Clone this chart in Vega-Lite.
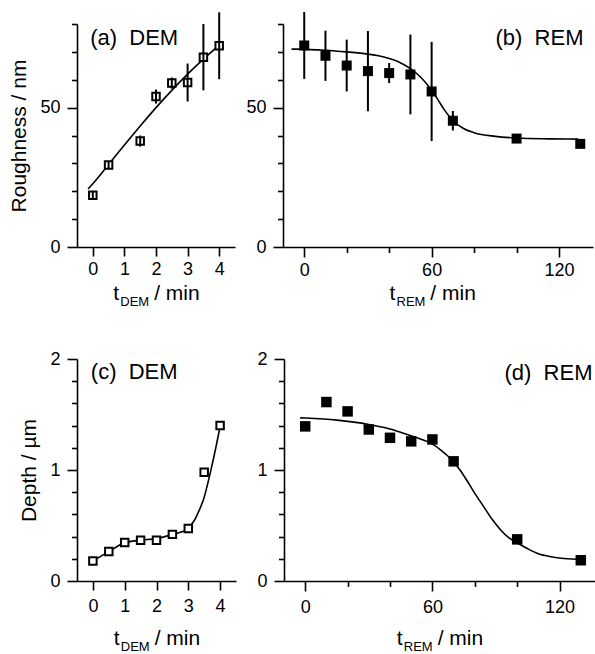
{
  "$schema": "https://vega.github.io/schema/vega-lite/v6.json",
  "padding": {"left": 8, "top": 11, "right": 0, "bottom": 0},
  "config": {
    "font": "Liberation Sans",
    "view": {"stroke": null},
    "axis": {
      "grid": false,
      "domainColor": "black",
      "domainWidth": 1.6,
      "tickColor": "black",
      "tickWidth": 1.6,
      "labelColor": "black",
      "labelFont": "Liberation Sans",
      "labelFontSize": 18,
      "titleColor": "black",
      "titleFont": "Liberation Sans",
      "titleFontSize": 21,
      "titleFontWeight": "normal",
      "labelOverlap": false,
      "labelFlush": false
    }
  },
  "datasets": {
    "aPts": [
      {"t": 0, "r": 18.6, "e": 1.2},
      {"t": 0.5, "r": 29.4, "e": 1.2},
      {"t": 1.5, "r": 38.0, "e": 2.0},
      {"t": 2, "r": 54.0, "e": 2.5},
      {"t": 2.5, "r": 58.8, "e": 2.0},
      {"t": 3, "r": 59.0, "e": 6.8},
      {"t": 3.5, "r": 68.1, "e": 11.9},
      {"t": 4, "r": 72.2, "e": 12.0}
    ],
    "aFit": [
      {"t": -0.15, "r": 20.8},
      {"t": 0, "r": 22.7},
      {"t": 0.5, "r": 29.6},
      {"t": 1, "r": 36.6},
      {"t": 1.5, "r": 43.4},
      {"t": 2, "r": 50.0},
      {"t": 2.5, "r": 56.2},
      {"t": 3, "r": 62.0},
      {"t": 3.5, "r": 67.4},
      {"t": 4, "r": 72.3}
    ],
    "bPts": [
      {"t": 0, "r": 72.3, "e": 12.0},
      {"t": 10, "r": 68.6, "e": 9.0},
      {"t": 20, "r": 65.1, "e": 9.3},
      {"t": 30, "r": 63.1, "e": 14.4},
      {"t": 40, "r": 62.4, "e": 3.6},
      {"t": 50, "r": 61.9, "e": 14.3},
      {"t": 60, "r": 55.8, "e": 17.8},
      {"t": 70, "r": 45.3, "e": 3.5},
      {"t": 100, "r": 38.9, "e": 1.0},
      {"t": 130, "r": 37.0, "e": 0.5}
    ],
    "bFit": [
      {"t": -6, "r": 71.0},
      {"t": 0, "r": 70.9},
      {"t": 10, "r": 70.6},
      {"t": 20, "r": 70.0},
      {"t": 30, "r": 69.2},
      {"t": 35, "r": 68.6},
      {"t": 40, "r": 67.6},
      {"t": 45, "r": 66.2},
      {"t": 50, "r": 64.0},
      {"t": 55, "r": 60.8},
      {"t": 60, "r": 56.2},
      {"t": 63, "r": 52.8},
      {"t": 66, "r": 49.2},
      {"t": 70, "r": 45.4},
      {"t": 75, "r": 42.5},
      {"t": 80, "r": 41.0},
      {"t": 90, "r": 39.7},
      {"t": 100, "r": 39.1},
      {"t": 115, "r": 38.8},
      {"t": 129, "r": 38.7}
    ],
    "cPts": [
      {"t": 0, "d": 0.18},
      {"t": 0.5, "d": 0.265},
      {"t": 1, "d": 0.347},
      {"t": 1.5, "d": 0.368},
      {"t": 2, "d": 0.368},
      {"t": 2.5, "d": 0.42},
      {"t": 3, "d": 0.472},
      {"t": 3.5, "d": 0.98},
      {"t": 4, "d": 1.40}
    ],
    "cFit": [
      {"t": 0, "d": 0.18},
      {"t": 0.5, "d": 0.265},
      {"t": 1, "d": 0.345},
      {"t": 1.5, "d": 0.368},
      {"t": 2, "d": 0.382},
      {"t": 2.5, "d": 0.42},
      {"t": 3, "d": 0.47},
      {"t": 3.1, "d": 0.51},
      {"t": 3.2, "d": 0.55},
      {"t": 3.3, "d": 0.61},
      {"t": 3.4, "d": 0.675},
      {"t": 3.5, "d": 0.755},
      {"t": 3.6, "d": 0.865},
      {"t": 3.7, "d": 0.985},
      {"t": 3.8, "d": 1.113},
      {"t": 3.9, "d": 1.25},
      {"t": 4, "d": 1.39}
    ],
    "dPts": [
      {"t": 0, "d": 1.393},
      {"t": 10, "d": 1.612},
      {"t": 20, "d": 1.528},
      {"t": 30, "d": 1.365},
      {"t": 40, "d": 1.29},
      {"t": 50, "d": 1.258},
      {"t": 60, "d": 1.275},
      {"t": 70, "d": 1.078},
      {"t": 100, "d": 0.375},
      {"t": 130, "d": 0.187}
    ],
    "dFit": [
      {"t": -2.4, "d": 1.47},
      {"t": 0, "d": 1.468},
      {"t": 15, "d": 1.449},
      {"t": 30, "d": 1.41},
      {"t": 40, "d": 1.37},
      {"t": 46, "d": 1.334},
      {"t": 52, "d": 1.295},
      {"t": 59, "d": 1.244},
      {"t": 64, "d": 1.18},
      {"t": 69, "d": 1.094},
      {"t": 73, "d": 1.0},
      {"t": 76, "d": 0.914},
      {"t": 80, "d": 0.79},
      {"t": 84, "d": 0.675},
      {"t": 88, "d": 0.56},
      {"t": 92, "d": 0.464},
      {"t": 96, "d": 0.39},
      {"t": 100, "d": 0.345},
      {"t": 105, "d": 0.29},
      {"t": 110, "d": 0.245},
      {"t": 116, "d": 0.218},
      {"t": 122, "d": 0.203},
      {"t": 131, "d": 0.195}
    ]
  },
  "vconcat": [
    {
      "hconcat": [
        {
          "width": 158,
          "height": 223,
          "resolve": {"axis": {"x": "independent", "y": "independent"}},
          "layer": [
            {
              "data": {"name": "aFit"},
              "mark": {"type": "line", "color": "black", "strokeWidth": 1.6, "interpolate": "monotone"},
              "encoding": {
                "x": {"field": "t", "type": "quantitative", "scale": {"domain": [-0.5, 4.5], "nice": false, "zero": false},
                  "axis": {"orient": "bottom", "values": [0, 1, 2, 3, 4], "tickSize": 9, "labelPadding": 4,
                    "title": "t\u00a0\u00a0\u00a0\u00a0\u00a0\u00a0/ min", "titleX": 35.8, "titleY": 52, "titleAlign": "left", "titleBaseline": "alphabetic"}},
                "y": {"field": "r", "type": "quantitative", "scale": {"domain": [0, 80], "nice": false, "zero": false},
                  "axis": {"orient": "left", "values": [0, 50], "tickSize": 10, "labelPadding": 7, "title": "Roughness / nm", "titlePadding": 10}}
              }
            },
            {
              "data": {"name": "aPts"},
              "mark": {"type": "point", "shape": "square", "size": 56, "filled": true, "fill": "white", "stroke": "black", "strokeWidth": 2, "opacity": 1},
              "encoding": {
                "x": {"field": "t", "type": "quantitative",
                  "axis": {"orient": "bottom", "ticks": false, "labels": false, "domain": false,
                    "title": "DEM", "titleFontSize": 13, "titleX": 42.8, "titleY": 58, "titleAlign": "left", "titleBaseline": "alphabetic"}},
                "y": {"field": "r", "type": "quantitative",
                  "axis": {"orient": "left", "values": [10, 20, 30, 40, 60, 70, 80], "tickSize": 5.5, "labels": false, "domain": false,
                    "title": "(a)\u00a0\u00a0DEM", "titleFontSize": 22, "titleAngle": 0, "titleX": 12.7, "titleY": 20, "titleAlign": "left", "titleBaseline": "alphabetic"}}
              }
            },
            {
              "data": {"name": "aPts"},
              "mark": {"type": "errorbar", "color": "black", "thickness": 2},
              "encoding": {
                "x": {"field": "t", "type": "quantitative", "axis": null},
                "y": {"field": "r", "type": "quantitative", "axis": null},
                "yError": {"field": "e"}
              }
            }
          ]
        },
        {
          "width": 310,
          "height": 223,
          "resolve": {"axis": {"x": "independent", "y": "independent"}},
          "layer": [
            {
              "data": {"name": "bFit"},
              "mark": {"type": "line", "color": "black", "strokeWidth": 1.6, "interpolate": "monotone"},
              "encoding": {
                "x": {"field": "t", "type": "quantitative", "scale": {"domain": [-10, 136], "nice": false, "zero": false},
                  "axis": {"orient": "bottom", "values": [0, 60, 120], "tickSize": 10, "labelPadding": 4,
                    "title": "t\u00a0\u00a0\u00a0\u00a0\u00a0\u00a0/ min", "titleX": 106, "titleY": 52, "titleAlign": "left", "titleBaseline": "alphabetic"}},
                "y": {"field": "r", "type": "quantitative", "scale": {"domain": [0, 80], "nice": false, "zero": false},
                  "axis": {"orient": "left", "values": [0, 50], "tickSize": 10, "labelPadding": 7, "title": null}}
              }
            },
            {
              "data": {"name": "bPts"},
              "mark": {"type": "point", "shape": "square", "size": 100, "filled": true, "color": "black", "opacity": 1},
              "encoding": {
                "x": {"field": "t", "type": "quantitative",
                  "axis": {"orient": "bottom", "values": [20, 40, 80, 100], "tickSize": 5.5, "labels": false, "domain": false,
                    "title": "REM", "titleFontSize": 13, "titleX": 113, "titleY": 58, "titleAlign": "left", "titleBaseline": "alphabetic"}},
                "y": {"field": "r", "type": "quantitative",
                  "axis": {"orient": "left", "values": [10, 20, 30, 40, 60, 70, 80], "tickSize": 5.5, "labels": false, "domain": false,
                    "title": "(b)\u00a0\u00a0REM", "titleFontSize": 22, "titleAngle": 0, "titleX": 300, "titleY": 20, "titleAlign": "right", "titleBaseline": "alphabetic"}}
              }
            },
            {
              "data": {"name": "bPts"},
              "mark": {"type": "errorbar", "color": "black", "thickness": 2},
              "encoding": {
                "x": {"field": "t", "type": "quantitative", "axis": null},
                "y": {"field": "r", "type": "quantitative", "axis": null},
                "yError": {"field": "e"}
              }
            }
          ]
        }
      ],
      "spacing": 48,
      "bounds": "flush"
    },
    {
      "hconcat": [
        {
          "width": 159,
          "height": 222,
          "resolve": {"axis": {"x": "independent", "y": "independent"}},
          "layer": [
            {
              "data": {"name": "cFit"},
              "mark": {"type": "line", "color": "black", "strokeWidth": 1.6, "interpolate": "monotone"},
              "encoding": {
                "x": {"field": "t", "type": "quantitative", "scale": {"domain": [-0.5, 4.5], "nice": false, "zero": false},
                  "axis": {"orient": "bottom", "values": [0, 1, 2, 3, 4], "tickSize": 9, "labelPadding": 7,
                    "title": "t\u00a0\u00a0\u00a0\u00a0\u00a0\u00a0/ min", "titleX": 36.3, "titleY": 63, "titleAlign": "left", "titleBaseline": "alphabetic"}},
                "y": {"field": "d", "type": "quantitative", "scale": {"domain": [0, 2], "nice": false, "zero": false},
                  "axis": {"orient": "left", "values": [0, 1, 2], "format": ".0f", "tickSize": 10, "labelPadding": 7, "title": "Depth / µm", "titlePadding": 10}}
              }
            },
            {
              "data": {"name": "cPts"},
              "mark": {"type": "point", "shape": "square", "size": 56, "filled": true, "fill": "white", "stroke": "black", "strokeWidth": 2, "opacity": 1},
              "encoding": {
                "x": {"field": "t", "type": "quantitative",
                  "axis": {"orient": "bottom", "ticks": false, "labels": false, "domain": false,
                    "title": "DEM", "titleFontSize": 13, "titleX": 43.3, "titleY": 69, "titleAlign": "left", "titleBaseline": "alphabetic"}},
                "y": {"field": "d", "type": "quantitative",
                  "axis": {"orient": "left", "values": [0.2, 0.4, 0.6, 0.8, 1.2, 1.4, 1.6, 1.8], "tickSize": 5.5, "labels": false, "domain": false,
                    "title": "(c)\u00a0\u00a0DEM", "titleFontSize": 22, "titleAngle": 0, "titleX": 13.3, "titleY": 19, "titleAlign": "left", "titleBaseline": "alphabetic"}}
              }
            }
          ]
        },
        {
          "width": 318,
          "height": 222,
          "resolve": {"axis": {"x": "independent", "y": "independent"}},
          "layer": [
            {
              "data": {"name": "dFit"},
              "mark": {"type": "line", "color": "black", "strokeWidth": 1.6, "interpolate": "monotone"},
              "encoding": {
                "x": {"field": "t", "type": "quantitative", "scale": {"domain": [-10, 140], "nice": false, "zero": false},
                  "axis": {"orient": "bottom", "values": [0, 60, 120], "tickSize": 10, "labelPadding": 7,
                    "title": "t\u00a0\u00a0\u00a0\u00a0\u00a0\u00a0/ min", "titleX": 112.3, "titleY": 63, "titleAlign": "left", "titleBaseline": "alphabetic"}},
                "y": {"field": "d", "type": "quantitative", "scale": {"domain": [0, 2], "nice": false, "zero": false},
                  "axis": {"orient": "left", "values": [0, 1, 2], "format": ".0f", "tickSize": 10, "labelPadding": 7, "title": null}}
              }
            },
            {
              "data": {"name": "dPts"},
              "mark": {"type": "point", "shape": "square", "size": 110, "filled": true, "color": "black", "opacity": 1},
              "encoding": {
                "x": {"field": "t", "type": "quantitative",
                  "axis": {"orient": "bottom", "values": [20, 40, 80, 100, 140], "tickSize": 5.5, "labels": false, "domain": false,
                    "title": "REM", "titleFontSize": 13, "titleX": 119.3, "titleY": 69, "titleAlign": "left", "titleBaseline": "alphabetic"}},
                "y": {"field": "d", "type": "quantitative",
                  "axis": {"orient": "left", "values": [0.2, 0.4, 0.6, 0.8, 1.2, 1.4, 1.6, 1.8], "tickSize": 5.5, "labels": false, "domain": false,
                    "title": "(d)\u00a0\u00a0REM", "titleFontSize": 22, "titleAngle": 0, "titleX": 308, "titleY": 20, "titleAlign": "right", "titleBaseline": "alphabetic"}}
              }
            }
          ]
        }
      ],
      "spacing": 48,
      "bounds": "flush"
    }
  ],
  "spacing": 42
}
